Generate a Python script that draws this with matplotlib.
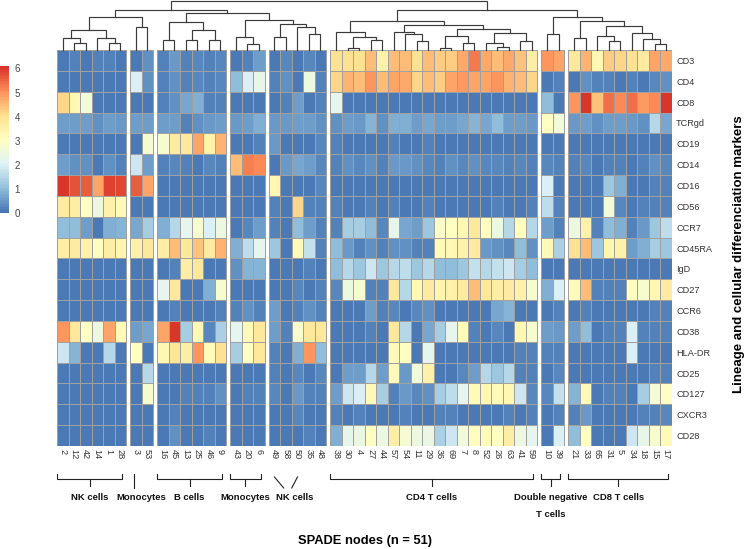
import numpy as np
import matplotlib
matplotlib.use("Agg")
import matplotlib.pyplot as plt
from matplotlib.colors import LinearSegmentedColormap

plt.rcParams['font.family'] = ['Liberation Sans', 'DejaVu Sans']

# ---------------- data ----------------
markers = ["CD3", "CD4", "CD8", "TCRgd", "CD19", "CD14", "CD16", "CD56", "CCR7",
           "CD45RA", "IgD", "CD27", "CCR6", "CD38", "HLA-DR", "CD25", "CD127",
           "CXCR3", "CD28"]

node_ids = [2, 12, 42, 14, 1, 28,
            3, 53,
            16, 45, 13, 25, 46, 9,
            43, 20, 6,
            49, 58, 50, 35, 48,
            38, 30, 4, 27, 44, 57, 54, 11, 29, 36, 69, 7, 8, 52, 26, 63, 41, 59,
            10, 39,
            21, 33, 65, 31, 5, 34, 18, 15, 17]

group_sizes = [6, 2, 6, 3, 5, 18, 2, 9]
group_labels = ["NK cells", "Monocytes", "B cells", "Monocytes", "NK cells",
                "CD4 T cells", "Double negative\nT cells", "CD8 T cells"]
group_marks = ["bracket", "line", "bracket", "bracket", "diagonal",
               "bracket", "bracket", "bracket"]

cd3 = [0.1, 0.2, 0.1, 0.2, 0.2, 0.1, 0.1, 0.4, 0.2, 0.5, 0.2, 0.3, 0.2, 0.3, 0.1, 0.2, 0.6,
       0.1, 0.3, 0.1, 0.3, 0.1,
       4.0, 4.0, 4.0, 4.5, 3.5, 4.5, 4.5, 4.0, 4.5, 4.3, 4.3, 4.7, 5.3, 4.7, 4.5, 4.7, 4.4, 3.6,
       5.0, 4.8, 3.8, 4.6, 3.3, 4.3, 4.2, 4.0, 3.7, 4.8, 4.7]
cd4 = [0.1, 0.1, 0.1, 0.1, 0.1, 0.1, 2.0, 0.4, 0.2, 0.4, 0.2, 0.3, 0.2, 0.3, 1.0, 2.0, 2.3,
       0.2, 0.4, 0.1, 2.5, 0.2,
       4.2, 4.6, 4.5, 5.0, 4.5, 4.8, 4.7, 4.2, 4.5, 4.3, 4.8, 4.9, 4.8, 4.8, 5.0, 4.6, 4.5, 4.2,
       0.1, 0.2, 0.1, 0.4, 0.2, 0.2, 0.1, 0.2, 0.1, 0.3, 0.4]
cd8 = [4.2, 3.3, 2.6, 0.1, 0.1, 0.1, 0.1, 0.1, 0.2, 0.4, 0.7, 0.8, 0.2, 0.2, 0.1, 0.1, 0.1,
       0.1, 0.2, 0.6, 0.1, 0.2,
       2.2, 0.1, 0.1, 0.1, 0.1, 0.1, 0.1, 0.1, 0.1, 0.1, 0.1, 0.1, 0.1, 0.1, 0.1, 0.1, 0.1, 0.1,
       1.0, 0.1, 5.0, 6.0, 4.4, 5.4, 5.1, 5.4, 4.9, 5.1, 6.0]
tcrgd = [0.6, 0.6, 0.6, 0.4, 0.6, 0.5, 0.6, 0.6, 0.6, 0.6, 0.2, 0.4, 0.5, 0.6, 0.5, 0.6, 0.8,
         0.5, 0.5, 0.6, 0.6, 0.4,
         0.4, 0.6, 0.5, 0.9, 0.4, 0.8, 0.8, 0.6, 0.7, 0.6, 0.6, 0.7, 0.9, 0.7, 1.0, 0.6, 0.6, 0.5,
         3.0, 2.6, 0.5, 0.6, 0.4, 0.6, 0.6, 0.5, 0.4, 1.5, 0.7]
cd19 = [0.1, 0.1, 0.1, 0.1, 0.1, 0.1, 0.1, 2.8, 2.8, 3.7, 3.8, 4.8, 3.5, 4.6, 0.1, 0.1, 0.2,
        0.5, 0.1, 0.1, 0.1, 0.3,
        0.2, 0.1, 0.1, 0.1, 0.1, 0.2, 0.1, 0.1, 0.2, 0.1, 0.1, 0.1, 0.1, 0.1, 0.1, 0.1, 0.1, 0.1,
        0.1, 0.1, 0.1, 0.1, 0.1, 0.1, 0.1, 0.1, 0.1, 0.1, 0.1]
cd14 = [0.6, 0.4, 0.4, 0.1, 0.4, 0.2, 1.8, 0.6, 0.2, 0.3, 0.2, 0.1, 0.3, 0.2, 4.5, 5.2, 5.1,
        0.1, 0.5, 0.7, 0.6, 0.3,
        0.2, 0.4, 0.3, 0.4, 0.2, 0.5, 0.5, 0.4, 0.3, 0.2, 0.4, 0.3, 0.4, 0.3, 0.3, 0.2, 0.3, 0.2,
        0.3, 0.2, 0.2, 0.3, 0.1, 0.2, 0.2, 0.1, 0.2, 0.4, 0.3]
cd16 = [6.0, 5.7, 5.6, 4.8, 5.9, 5.8, 5.6, 4.8, 0.1, 0.1, 0.1, 0.1, 0.1, 0.1, 0.1, 0.1, 0.1,
        3.3, 0.1, 0.1, 0.1, 0.3,
        0.1, 0.1, 0.1, 0.1, 0.1, 0.1, 0.1, 0.1, 0.1, 0.1, 0.1, 0.1, 0.1, 0.1, 0.1, 0.1, 0.1, 0.1,
        2.0, 0.1, 0.1, 0.1, 0.1, 1.2, 0.8, 0.1, 0.1, 0.2, 0.2]
cd56 = [3.7, 3.6, 3.0, 2.5, 3.5, 3.2, 0.1, 0.1, 0.1, 0.1, 0.1, 0.1, 0.1, 0.1, 0.1, 0.1, 0.1,
        0.2, 0.1, 4.2, 0.2, 0.2,
        0.2, 0.1, 0.1, 0.2, 0.1, 0.2, 0.1, 0.1, 0.2, 0.1, 0.1, 0.1, 0.1, 0.1, 0.2, 0.1, 0.1, 0.2,
        1.6, 0.2, 0.1, 0.1, 0.1, 2.6, 0.3, 0.1, 0.2, 0.2, 0.2]
ccr7 = [1.0, 1.0, 0.6, 0.1, 0.8, 0.9, 0.7, 1.3, 0.8, 1.5, 2.2, 2.8, 2.0, 2.5, 0.1, 0.3, 0.6,
        0.2, 0.1, 1.0, 0.6, 0.2,
        0.2, 1.3, 1.3, 1.0, 0.3, 2.3, 0.7, 0.6, 1.2, 2.9, 3.0, 3.3, 3.8, 3.1, 2.5, 1.5, 3.1, 1.5,
        0.6, 0.2, 2.5, 3.5, 0.2, 1.0, 0.8, 0.2, 0.5, 1.2, 1.6]
cd45ra = [3.6, 3.7, 3.5, 3.0, 3.6, 3.4, 3.5, 3.8, 3.6, 4.5, 3.8, 4.4, 3.7, 4.6, 0.8, 1.6, 2.2,
          1.2, 0.1, 3.2, 1.7, 0.2,
          1.0, 0.5, 0.2, 0.4, 0.2, 0.4, 0.4, 0.2, 0.2, 3.2, 3.3, 3.5, 3.7, 0.5, 0.4, 0.3, 1.0, 0.4,
          3.2, 1.4, 4.0, 4.5, 1.2, 3.4, 3.5, 0.6, 0.8, 1.3, 1.2]
igd = [0.1, 0.1, 0.1, 0.1, 0.1, 0.1, 0.1, 0.1, 0.1, 0.2, 3.6, 3.8, 0.1, 0.1, 0.4, 0.9, 0.9,
       0.1, 0.1, 0.1, 0.2, 0.1,
       1.0, 1.5, 1.2, 1.8, 1.2, 1.5, 1.6, 1.2, 1.5, 1.0, 1.0, 1.2, 1.7, 1.5, 1.7, 1.8, 1.3, 1.0,
       0.1, 0.1, 0.1, 0.1, 0.1, 0.1, 0.1, 0.1, 0.1, 0.1, 0.1]
cd27 = [0.1, 0.1, 0.1, 0.1, 0.1, 0.1, 0.1, 0.1, 2.2, 3.8, 0.1, 0.1, 0.8, 2.8, 0.1, 0.1, 0.1,
        0.1, 0.1, 0.3, 0.1, 0.2,
        0.3, 2.5, 2.8, 0.2, 0.2, 3.8, 1.5, 3.3, 3.7, 3.4, 3.5, 3.7, 4.5, 3.8, 3.6, 3.7, 3.5, 2.8,
        0.8, 2.0, 3.2, 4.5, 0.2, 0.2, 0.2, 3.0, 2.8, 3.3, 3.7]
ccr6 = [0.1, 0.1, 0.1, 0.1, 0.1, 0.1, 0.1, 0.1, 0.1, 0.2, 0.1, 0.1, 0.1, 0.2, 0.2, 0.4, 0.2,
        0.6, 0.1, 0.2, 0.4, 0.2,
        0.1, 0.1, 0.1, 0.6, 0.2, 0.3, 0.1, 0.3, 0.4, 0.1, 0.1, 0.1, 0.1, 0.1, 0.7, 0.9, 0.1, 0.1,
        0.1, 0.2, 0.1, 0.2, 0.1, 0.1, 0.1, 0.1, 0.1, 0.2, 0.2]
cd38 = [5.0, 3.8, 3.0, 2.5, 4.8, 3.2, 0.6, 0.7, 4.8, 6.0, 1.3, 3.3, 0.3, 1.4, 2.2, 3.2, 3.8,
        0.6, 0.2, 2.8, 3.8, 3.8,
        0.1, 0.1, 0.1, 0.2, 0.1, 3.8, 1.5, 0.1, 0.7, 1.3, 2.2, 3.2, 0.2, 0.1, 0.3, 0.1, 3.3, 2.8,
        0.6, 0.5, 0.6, 1.0, 0.1, 0.2, 0.2, 2.0, 0.2, 0.2, 0.2]
hladr = [1.8, 0.9, 0.1, 0.1, 1.5, 0.1, 3.0, 0.1, 3.3, 3.9, 3.6, 5.0, 3.2, 4.0, 1.3, 3.0, 3.8,
         0.2, 0.1, 0.8, 5.0, 1.0,
         0.1, 0.1, 0.1, 0.1, 0.1, 3.2, 3.0, 0.1, 2.2, 0.1, 0.1, 0.1, 0.1, 0.1, 0.1, 0.1, 0.2, 0.2,
         0.2, 0.2, 0.1, 0.1, 0.1, 0.1, 0.1, 2.0, 0.1, 0.1, 0.1]
cd25 = [0.1, 0.1, 0.1, 0.1, 0.1, 0.1, 0.1, 1.5, 0.1, 0.1, 0.1, 0.1, 0.1, 0.1, 0.1, 0.1, 0.1,
        0.2, 0.1, 0.3, 0.1, 0.3,
        0.1, 0.6, 0.6, 1.5, 0.6, 3.2, 0.5, 2.6, 3.5, 0.1, 0.1, 0.3, 0.6, 1.5, 1.2, 1.5, 0.2, 0.2,
        0.1, 0.3, 0.1, 0.1, 0.1, 0.1, 0.1, 0.1, 0.1, 0.2, 0.2]
cd127 = [0.1, 0.1, 0.1, 0.1, 0.1, 0.1, 0.1, 2.8, 0.1, 0.1, 0.2, 0.2, 0.2, 0.4, 0.1, 0.2, 0.2,
         0.3, 0.1, 0.5, 0.2, 0.2,
         0.6, 1.8, 2.0, 3.2, 1.3, 0.2, 0.5, 0.3, 0.4, 1.3, 1.6, 2.2, 3.2, 3.3, 3.2, 3.3, 1.8, 0.3,
         0.3, 1.7, 0.9, 3.2, 0.1, 0.2, 0.2, 0.1, 1.3, 2.7, 3.0]
cxcr3 = [0.1, 0.1, 0.1, 0.1, 0.1, 0.1, 0.1, 0.1, 0.1, 0.2, 0.1, 0.1, 0.1, 0.1, 0.1, 0.1, 0.1,
         0.1, 0.1, 0.3, 0.1, 0.1,
         0.2, 0.1, 0.2, 0.1, 0.1, 0.1, 0.2, 0.1, 0.1, 0.2, 0.2, 0.1, 0.1, 0.1, 0.1, 0.2, 0.1, 0.2,
         0.1, 0.2, 0.2, 0.5, 0.1, 0.1, 0.1, 0.1, 0.2, 0.2, 0.3]
cd28 = [0.1, 0.1, 0.1, 0.1, 0.1, 0.1, 0.1, 0.1, 0.1, 0.4, 0.1, 0.1, 0.2, 0.1, 0.1, 0.1, 0.1,
        0.1, 0.1, 0.1, 0.2, 0.1,
        0.8, 2.3, 2.4, 3.1, 2.5, 3.6, 2.7, 2.5, 2.4, 1.4, 1.8, 2.6, 3.1, 3.2, 3.0, 3.6, 2.5, 2.2,
        0.1, 2.0, 1.0, 3.0, 0.1, 0.1, 0.1, 1.8, 2.3, 2.8, 3.2]

# dendrogram merges: (child_a, child_b, height); leaves are column positions 0..50,
# merged clusters get ids 51, 52, ...
merges = [
    (1, 2, 7), (0, 51, 12), (4, 5, 7), (3, 53, 12), (52, 54, 20),
    (6, 7, 23), (55, 56, 33),
    (8, 9, 10), (10, 11, 10), (12, 13, 10), (59, 60, 20), (58, 61, 28),
    (15, 16, 6), (14, 63, 13),
    (17, 18, 13), (20, 21, 16), (19, 66, 23), (65, 67, 26), (64, 68, 30),
    (62, 69, 37), (57, 70, 40),
    (23, 24, 2), (25, 26, 10), (72, 73, 13), (22, 74, 18),
    (29, 30, 9), (28, 76, 16), (27, 77, 18),
    (31, 32, 2), (33, 34, 7), (79, 80, 14),
    (36, 37, 3), (35, 82, 7), (38, 39, 9), (83, 84, 17), (81, 85, 21),
    (78, 86, 25), (75, 87, 29),
    (40, 41, 16),
    (42, 43, 12), (45, 46, 9), (44, 91, 14), (49, 50, 6), (48, 93, 11),
    (47, 94, 17), (92, 95, 24), (90, 96, 29), (89, 97, 33),
    (88, 98, 40), (71, 99, 49.5),
]

# ---------------- layout ----------------
W, H = 746, 549
fig = plt.figure(figsize=(W / 100, H / 100), dpi=100)


def px_axes(x0, y0, x1, y1):
    return fig.add_axes([x0 / W, 1 - y1 / H, (x1 - x0) / W, (y1 - y0) / H])


data = np.array([cd3, cd4, cd8, tcrgd, cd19, cd14, cd16, cd56, ccr7, cd45ra, igd,
                 cd27, ccr6, cd38, hladr, cd25, cd127, cxcr3, cd28])
nrow, ncol = data.shape

GAP = 0.35
group_of_col = np.repeat(np.arange(len(group_sizes)), group_sizes)
col_left = np.arange(ncol) + group_of_col * GAP
col_center = col_left + 0.5
WTOT = ncol + (len(group_sizes) - 1) * GAP
starts = np.concatenate([[0], np.cumsum(group_sizes)[:-1]])

cmap = LinearSegmentedColormap.from_list(
    "rdylbu_r", ["#4575B4", "#91BFDB", "#E0F3F8", "#FFFFBF", "#FEE090", "#FC8D59", "#D73027"],
    N=100)
VMIN, VMAX = 0.0, 6.1

# heatmap
ax = px_axes(57, 50, 672, 446)
mesh = None
for g, (s, n) in enumerate(zip(starts, group_sizes)):
    xe = col_left[s] + np.arange(n + 1)
    ye = np.arange(nrow + 1)
    mesh = ax.pcolormesh(xe, ye, data[:, s:s + n], cmap=cmap, vmin=VMIN, vmax=VMAX,
                         edgecolors="#a0a0a0", linewidth=0.6)
ax.set_xlim(0, WTOT)
ax.set_ylim(nrow, 0)
for sp in ax.spines.values():
    sp.set_visible(False)
ax.set_xticks(col_center)
ax.set_xticklabels([str(v) for v in node_ids], rotation=270, fontsize=6.6, color="#333333")
ax.tick_params(axis="x", length=0, pad=2.5)
ax.yaxis.tick_right()
ax.set_yticks(np.arange(nrow) + 0.5)
ax.set_yticklabels(markers, fontsize=6.6, color="#333333")
ax.tick_params(axis="y", length=0, pad=3)

# dendrogram
axd = px_axes(57, 0, 672, 50)
axd.set_xlim(0, WTOT)
axd.set_ylim(0, 50)
axd.axis("off")
node_x = {i: col_center[i] for i in range(ncol)}
node_h = {i: 0.0 for i in range(ncol)}
for k, (a, b, h) in enumerate(merges):
    nid = ncol + k
    xa, xb = node_x[a], node_x[b]
    axd.plot([xa, xa, xb, xb], [node_h[a], h, h, node_h[b]], color="#3a3a3a",
             lw=0.85, solid_joinstyle="miter", clip_on=False)
    node_x[nid] = (xa + xb) / 2
    node_h[nid] = h

# colour legend
cax = px_axes(0, 66, 9, 213)
cb = fig.colorbar(mesh, cax=cax, ticks=range(7))
cb.outline.set_visible(False)
cax.tick_params(length=0, labelsize=7, colors="#444444", pad=4)

# group annotations
axa = px_axes(57, 446, 672, 549)
axa.set_xlim(0, WTOT)
axa.set_ylim(549, 446)
axa.axis("off")
lc = "#222222"
for g, (s, n) in enumerate(zip(starts, group_sizes)):
    x0 = col_left[s]
    x1 = col_left[s + n - 1] + 1 - 0.35
    xc = (x0 + x1) / 2
    mark = group_marks[g]
    lx = xc
    if mark == "bracket":
        axa.plot([x0, x0, x1, x1], [474, 479, 479, 474], color=lc, lw=0.8)
        axa.plot([xc, xc], [479, 486], color=lc, lw=0.8)
    elif mark == "line":
        axa.plot([x0 + 0.35, x0 + 0.35], [474, 488], color=lc, lw=0.8)
        lx = (col_left[s] + col_left[s + n - 1] + 1) / 2
    elif mark == "diagonal":
        lx = (col_left[s] + col_left[s + n - 1] + 1) / 2 - 0.25
        axa.plot([col_center[s], lx - 0.95], [477, 488], color=lc, lw=0.8)
        axa.plot([col_center[s + 2], lx - 0.25], [477, 488], color=lc, lw=0.8)
    for li, line in enumerate(group_labels[g].split("\n")):
        axa.text(lx, 498 + 17 * li, line, ha="center", va="center",
                 fontsize=6.8, fontweight="bold", color="#111111")

# axis titles
fig.text(739 / W, 1 - 254 / H, "Lineage and cellular differenciation markers",
         rotation=90, ha="center", va="center", fontsize=9.5, fontweight="bold")
fig.text(364.5 / W, 1 - 541 / H, "SPADE nodes (n = 51)", ha="center", va="center",
         fontsize=9.3, fontweight="bold")

fig.savefig("out.png", dpi=100)
